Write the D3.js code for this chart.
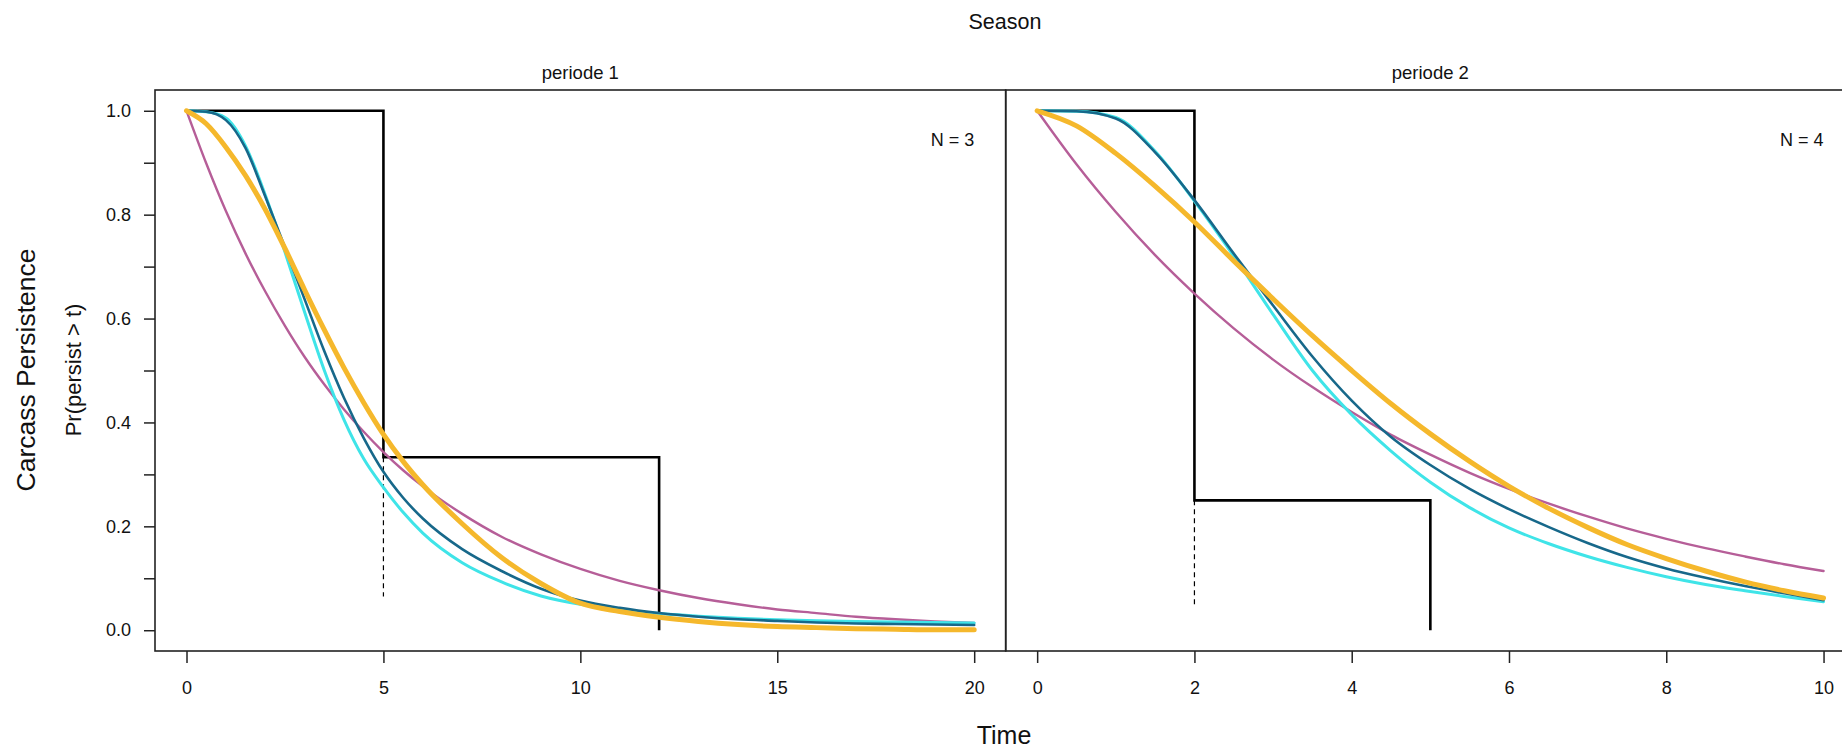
<!DOCTYPE html>
<html>
<head>
<meta charset="utf-8">
<script src="https://cdn.jsdelivr.net/npm/d3@7"></script>
<style>
  body { margin: 0; background: #fff; }
  svg { display: block; }
  text { font-family: "Liberation Sans", Arial, sans-serif; fill: #111; }
</style>
</head>
<body>
<svg id="chart" width="1842" height="750"></svg>
<script>
// ---- Period 1: fitted persistence curves, Pr(persist > t)
const timeP1 = [0, 0.5, 1, 1.5, 2, 2.5, 3, 3.5, 4, 4.5, 5, 5.5, 6, 7, 8, 9, 10, 11, 12, 13, 14, 15, 16, 17, 18, 19, 20];
const exponentialP1 = [1, 0.899, 0.807, 0.725, 0.652, 0.586, 0.526, 0.473, 0.425, 0.382, 0.343, 0.308, 0.277, 0.224, 0.180, 0.146, 0.118, 0.095, 0.077, 0.062, 0.050, 0.040, 0.033, 0.026, 0.021, 0.017, 0.014];
const weibullP1     = [1, 0.975, 0.930, 0.875, 0.810, 0.735, 0.655, 0.578, 0.505, 0.438, 0.377, 0.325, 0.280, 0.205, 0.140, 0.090, 0.052, 0.036, 0.025, 0.017, 0.011, 0.007, 0.005, 0.003, 0.002, 0.001, 0.001];
const lognormalP1   = [1, 0.998, 0.982, 0.928, 0.835, 0.737, 0.637, 0.537, 0.447, 0.370, 0.305, 0.255, 0.215, 0.156, 0.114, 0.080, 0.057, 0.043, 0.033, 0.026, 0.021, 0.018, 0.015, 0.013, 0.012, 0.011, 0.010];
const loglogisticP1 = [1, 0.998, 0.986, 0.932, 0.838, 0.728, 0.612, 0.500, 0.405, 0.330, 0.275, 0.227, 0.187, 0.130, 0.093, 0.066, 0.050, 0.040, 0.032, 0.027, 0.023, 0.020, 0.018, 0.017, 0.016, 0.015, 0.014];

// ---- Period 2: fitted persistence curves
const timeP2 = [0, 0.5, 1, 1.5, 2, 2.5, 3, 3.5, 4, 4.5, 5, 5.5, 6, 6.5, 7, 7.5, 8, 8.5, 9, 9.5, 10];
const exponentialP2 = [1, 0.897, 0.805, 0.722, 0.648, 0.581, 0.521, 0.468, 0.420, 0.376, 0.338, 0.303, 0.272, 0.244, 0.219, 0.196, 0.176, 0.158, 0.142, 0.127, 0.114];
const weibullP2     = [1, 0.971, 0.918, 0.855, 0.786, 0.711, 0.638, 0.567, 0.500, 0.436, 0.378, 0.325, 0.277, 0.235, 0.198, 0.165, 0.138, 0.114, 0.093, 0.076, 0.062];
const lognormalP2   = [1, 0.999, 0.985, 0.920, 0.828, 0.725, 0.625, 0.527, 0.442, 0.372, 0.318, 0.272, 0.233, 0.199, 0.168, 0.141, 0.119, 0.101, 0.085, 0.071, 0.058];
const loglogisticP2 = [1, 0.999, 0.987, 0.922, 0.826, 0.720, 0.608, 0.500, 0.415, 0.345, 0.285, 0.236, 0.197, 0.167, 0.142, 0.121, 0.103, 0.088, 0.076, 0.065, 0.055];

// ---- Empirical (step) estimates and censoring intervals
const stepTimeP1 = [0, 5, 12];
const stepSurvP1 = [1, 0.333, 0];
const censorTimeP1 = 5, censorLowP1 = 0.065, censorHighP1 = 0.333;
const stepTimeP2 = [0, 2, 5];
const stepSurvP2 = [1, 0.25, 0];
const censorTimeP2 = 2, censorLowP2 = 0.045, censorHighP2 = 0.25;

// ---- Labels and ticks
const panelTitles = ["periode 1", "periode 2"];
const sampleSizes = ["N = 3", "N = 4"];
const xTicksP1 = [0, 5, 10, 15, 20];
const xTicksP2 = [0, 2, 4, 6, 8, 10];
const yTicks = [0, 0.1, 0.2, 0.3, 0.4, 0.5, 0.6, 0.7, 0.8, 0.9, 1.0];
const yTickLabels = [0, 0.2, 0.4, 0.6, 0.8, 1.0];

// Model styling (drawn in this order, weibull on top)
const models = [
  { key: "exponential", color: "#b65e98", width: 2.4 },
  { key: "loglogistic", color: "#3fe4e8", width: 3 },
  { key: "lognormal",   color: "#17688a", width: 2.6 },
  { key: "weibull",     color: "#f5b82c", width: 5 }
];

const panels = [
  { title: panelTitles[0], n: sampleSizes[0], time: timeP1,
    series: { exponential: exponentialP1, weibull: weibullP1, lognormal: lognormalP1, loglogistic: loglogisticP1 },
    stepT: stepTimeP1, stepS: stepSurvP1,
    cT: censorTimeP1, cLo: censorLowP1, cHi: censorHighP1,
    xMax: 20, xTicks: xTicksP1, x0: 155, x1: 1005.7 },
  { title: panelTitles[1], n: sampleSizes[1], time: timeP2,
    series: { exponential: exponentialP2, weibull: weibullP2, lognormal: lognormalP2, loglogistic: loglogisticP2 },
    stepT: stepTimeP2, stepS: stepSurvP2,
    cT: censorTimeP2, cLo: censorLowP2, cHi: censorHighP2,
    xMax: 10, xTicks: xTicksP2, x0: 1005.7, x1: 1855 }
];

const svg = d3.select("#chart");
svg.append("rect").attr("width", 1842).attr("height", 750).attr("fill", "#fff");

const plotTop = 90, plotBottom = 651;
// y range padded 4% on each side
const y = d3.scaleLinear().domain([-0.04, 1.04]).range([plotBottom, plotTop]);

panels.forEach((p, i) => {
  const pad = p.xMax * 0.04;
  const x = d3.scaleLinear().domain([-pad, p.xMax + pad]).range([p.x0, p.x1]);
  const g = svg.append("g");

  const clipId = "clip" + i;
  svg.append("clipPath").attr("id", clipId)
    .append("rect").attr("x", p.x0).attr("y", plotTop).attr("width", p.x1 - p.x0).attr("height", plotBottom - plotTop);
  const plot = g.append("g").attr("clip-path", `url(#${clipId})`);

  // empirical step estimate
  const stepPts = p.stepT.map((t, k) => [t, p.stepS[k]]);
  plot.append("path")
    .attr("d", d3.line().x(d => x(d[0])).y(d => y(d[1])).curve(d3.curveStepAfter)(stepPts))
    .attr("fill", "none").attr("stroke", "#000").attr("stroke-width", 2.6);

  // censoring interval
  plot.append("line")
    .attr("x1", x(p.cT)).attr("x2", x(p.cT))
    .attr("y1", y(p.cHi)).attr("y2", y(p.cLo))
    .attr("stroke", "#000").attr("stroke-width", 1.2).attr("stroke-dasharray", "5,4");

  // fitted curves
  const line = d3.line().x(d => x(d[0])).y(d => y(d[1])).curve(d3.curveMonotoneX);
  models.forEach(m => {
    const pts = p.time.map((t, k) => [t, p.series[m.key][k]]);
    plot.append("path")
      .attr("d", line(pts))
      .attr("fill", "none")
      .attr("stroke", m.color)
      .attr("stroke-width", m.width)
      .attr("stroke-linejoin", "round")
      .attr("stroke-linecap", "round");
  });

  // panel frame
  g.append("rect")
    .attr("x", p.x0).attr("y", plotTop).attr("width", p.x1 - p.x0).attr("height", plotBottom - plotTop)
    .attr("fill", "none").attr("stroke", "#222").attr("stroke-width", 1.6);

  // x axis
  const xAxis = d3.axisBottom(x).tickValues(p.xTicks).tickSize(12).tickPadding(18).tickFormat(d3.format("d"));
  const gx = g.append("g").attr("transform", `translate(0,${plotBottom})`).call(xAxis);
  gx.select(".domain").remove();
  gx.selectAll(".tick line").attr("stroke", "#222").attr("stroke-width", 1.5);
  gx.selectAll(".tick text").attr("font-size", 18).attr("font-family", "Liberation Sans, Arial, sans-serif").attr("fill", "#111");

  // panel title
  g.append("text")
    .attr("x", (p.x0 + p.x1) / 2).attr("y", 79)
    .attr("text-anchor", "middle").attr("font-size", 18.5)
    .text(p.title);

  // sample size
  g.append("text")
    .attr("x", x(p.xMax)).attr("y", 146)
    .attr("text-anchor", "end").attr("font-size", 18)
    .text(p.n);

  // y axis on the first panel
  if (i === 0) {
    const yAxis = d3.axisLeft(y).tickValues(yTicks).tickSize(11).tickPadding(13)
      .tickFormat(d => yTickLabels.some(v => Math.abs(v - d) < 1e-9) ? d3.format(".1f")(d) : "");
    const gy = g.append("g").attr("transform", `translate(${p.x0},0)`).call(yAxis);
    gy.select(".domain").remove();
    gy.selectAll(".tick line").attr("stroke", "#222").attr("stroke-width", 1.5);
    gy.selectAll(".tick text").attr("font-size", 18).attr("font-family", "Liberation Sans, Arial, sans-serif").attr("fill", "#111");
  }
});

// overall titles
svg.append("text").attr("x", 1005).attr("y", 29).attr("text-anchor", "middle")
  .attr("font-size", 21.5).text("Season");
svg.append("text").attr("x", 1004).attr("y", 744).attr("text-anchor", "middle")
  .attr("font-size", 25).text("Time");
svg.append("text").attr("transform", "translate(35,370) rotate(-90)").attr("text-anchor", "middle")
  .attr("font-size", 26.5).text("Carcass Persistence");
svg.append("text").attr("transform", "translate(81,370) rotate(-90)").attr("text-anchor", "middle")
  .attr("font-size", 22).text("Pr(persist > t)");
</script>
</body>
</html>
